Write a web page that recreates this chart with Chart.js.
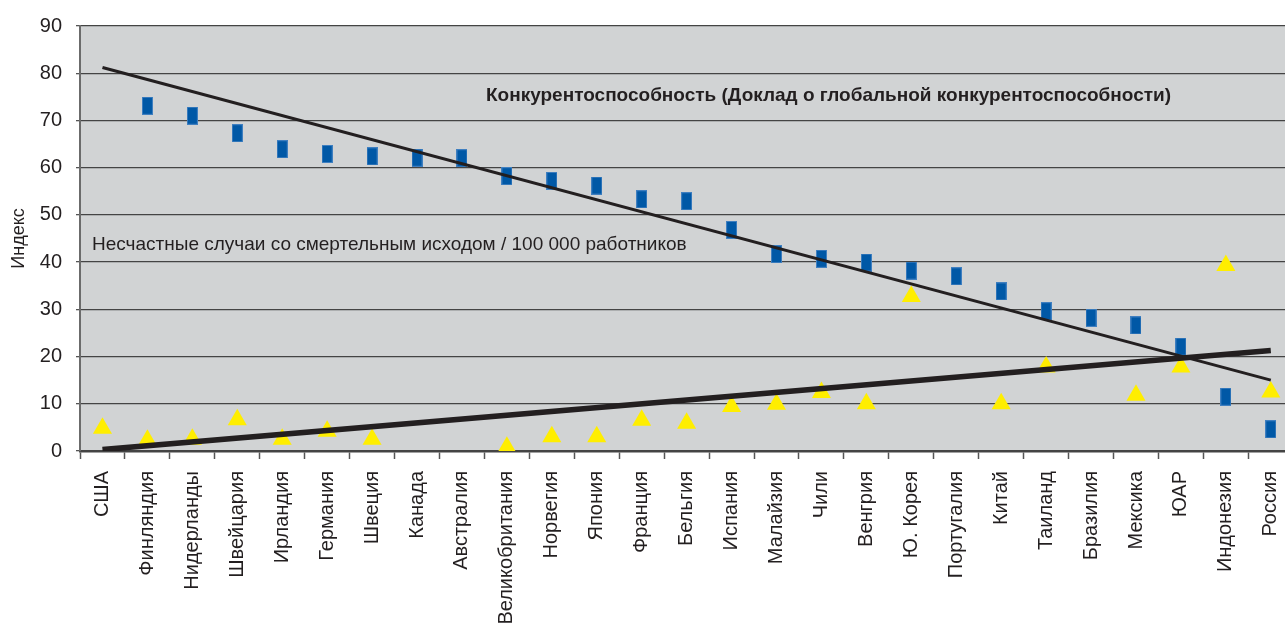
<!DOCTYPE html>
<html>
<head>
<meta charset="utf-8">
<script src="https://cdn.jsdelivr.net/npm/chart.js@4.4.1/dist/chart.umd.min.js"></script>
<style>
  html, body { margin: 0; padding: 0; background: #fff; overflow: hidden; }
  #wrap { position: absolute; left: 0; top: 0; width: 1307px; height: 623px; }
</style>
</head>
<body>
<div id="wrap"><canvas id="chart" width="1307" height="623"></canvas></div>
<script>
// Competitiveness vs. fatal accidents chart

const countries = [
  "США", "Финляндия", "Нидерланды", "Швейцария", "Ирландия", "Германия",
  "Швеция", "Канада", "Австралия", "Великобритания", "Норвегия", "Япония",
  "Франция", "Бельгия", "Испания", "Малайзия", "Чили", "Венгрия",
  "Ю. Корея", "Португалия", "Китай", "Таиланд", "Бразилия", "Мексика",
  "ЮАР", "Индонезия", "Россия"
];

// Competitiveness index (blue bars)
const competitiveness = [
  null, 73.1, 71.0, 67.3, 63.9, 62.9, 62.4, 62.1, 62.0, 58.2, 57.2, 56.2,
  53.3, 52.9, 46.8, 41.7, 40.7, 39.9, 38.2, 37.0, 33.8, 29.6, 28.2, 26.6,
  22.1, 11.5, 4.6
];

// Fatal accidents per 100 000 workers (yellow triangles)
const fatalities = [
  4.8, 2.3, 2.5, 6.6, 2.5, 4.2, 2.5, null, null, 0.8, 3.0, 3.0,
  6.5, 5.9, 9.4, 9.9, 12.4, 10.0, 32.7, null, 10.0, 17.8, null, 11.8,
  17.8, 39.3, 12.5
];

// Trend lines, read at first and last country
const competitivenessTrend = [81.2].concat(new Array(25).fill(null), [15.0]);
const fatalitiesTrend = [0.3].concat(new Array(25).fill(null), [21.3]);

const yTicks = [0, 10, 20, 30, 40, 50, 60, 70, 80, 90];

const labelComp = "Конкурентоспособность (Доклад о глобальной конкурентоспособности)";
const labelFatal = "Несчастные случаи со смертельным исходом / 100 000 работников";

const FONT = "'Liberation Sans', Arial, sans-serif";
const INK = "#231f20";

// blue rectangle marker
function makeRectMarker() {
  const c = document.createElement("canvas");
  c.width = 11;
  c.height = 18;
  const g = c.getContext("2d");
  g.fillStyle = "#3f7fc0";
  g.fillRect(0, 0, 11, 18);
  g.fillStyle = "#0058a6";
  g.fillRect(1, 1, 9, 16);
  return c;
}

const plotBackground = {
  id: "plotBackground",
  beforeDraw(chart) {
    const { ctx, chartArea } = chart;
    ctx.save();
    ctx.fillStyle = "#d1d3d4";
    ctx.fillRect(chartArea.left, chartArea.top, chartArea.right - chartArea.left, chartArea.bottom - chartArea.top);
    ctx.restore();
  },
};

const seriesLabels = {
  id: "seriesLabels",
  afterDatasetsDraw(chart) {
    const { ctx } = chart;
    ctx.save();
    ctx.fillStyle = INK;
    ctx.textBaseline = "middle";
    ctx.textAlign = "left";
    ctx.font = "bold 19px " + FONT;
    ctx.fillText(labelComp, 486, 96);
    ctx.font = "19px " + FONT;
    ctx.fillText(labelFatal, 92, 245);
    ctx.restore();
  },
};

const ctx = document.getElementById("chart");

new Chart(ctx, {
  type: "line",
  data: {
    labels: countries,
    datasets: [
      {
        label: "Тренд конкурентоспособности",
        data: competitivenessTrend,
        borderColor: INK,
        borderWidth: 3,
        pointRadius: 0,
        spanGaps: true,
        fill: false,
      },
      {
        label: "Тренд несчастных случаев",
        data: fatalitiesTrend,
        borderColor: INK,
        borderWidth: 5.5,
        pointRadius: 0,
        spanGaps: true,
        fill: false,
      },
      {
        label: "Конкурентоспособность",
        data: competitiveness,
        showLine: false,
        pointStyle: makeRectMarker(),
        pointRadius: 9,
        pointHoverRadius: 9,
      },
      {
        label: "Несчастные случаи",
        data: fatalities,
        showLine: false,
        pointStyle: "triangle",
        pointRadius: 11,
        pointHoverRadius: 11,
        backgroundColor: "#ffee00",
        borderColor: "#ffee00",
        borderWidth: 0,
      },
    ],
  },
  options: {
    responsive: false,
    devicePixelRatio: 1,
    animation: false,
    layout: { padding: { top: 24, left: 0, right: 0, bottom: 0 } },
    plugins: {
      legend: { display: false },
      tooltip: { enabled: false },
    },
    scales: {
      x: {
        type: "category",
        offset: true,
        afterFit: (scale) => { scale.height = 172; },
        grid: {
          offset: true,
          drawOnChartArea: false,
          drawTicks: true,
          tickLength: 8,
          tickWidth: 1.5,
          tickColor: "#555",
        },
        border: { display: true, color: "#444", width: 2.5 },
        ticks: {
          autoSkip: false,
          maxRotation: 90,
          minRotation: 90,
          padding: 12,
          color: INK,
          font: { family: FONT, size: 20 },
        },
      },
      y: {
        min: 0,
        max: 90,
        afterFit: (scale) => { scale.width = 80; },
        afterBuildTicks: (scale) => { scale.ticks = yTicks.map((v) => ({ value: v })); },
        grid: {
          color: "#444",
          lineWidth: 1.3,
          tickLength: 4,
          tickColor: "#555",
        },
        border: { display: true, color: "#6b6b6b", width: 2 },
        ticks: {
          padding: 14,
          color: INK,
          font: { family: FONT, size: 20 },
        },
        title: {
          display: true,
          text: "Индекс",
          color: INK,
          padding: { top: 8, bottom: 0 },
          font: { family: FONT, size: 18 },
        },
      },
    },
  },
  plugins: [plotBackground, seriesLabels],
});
</script>
</body>
</html>
